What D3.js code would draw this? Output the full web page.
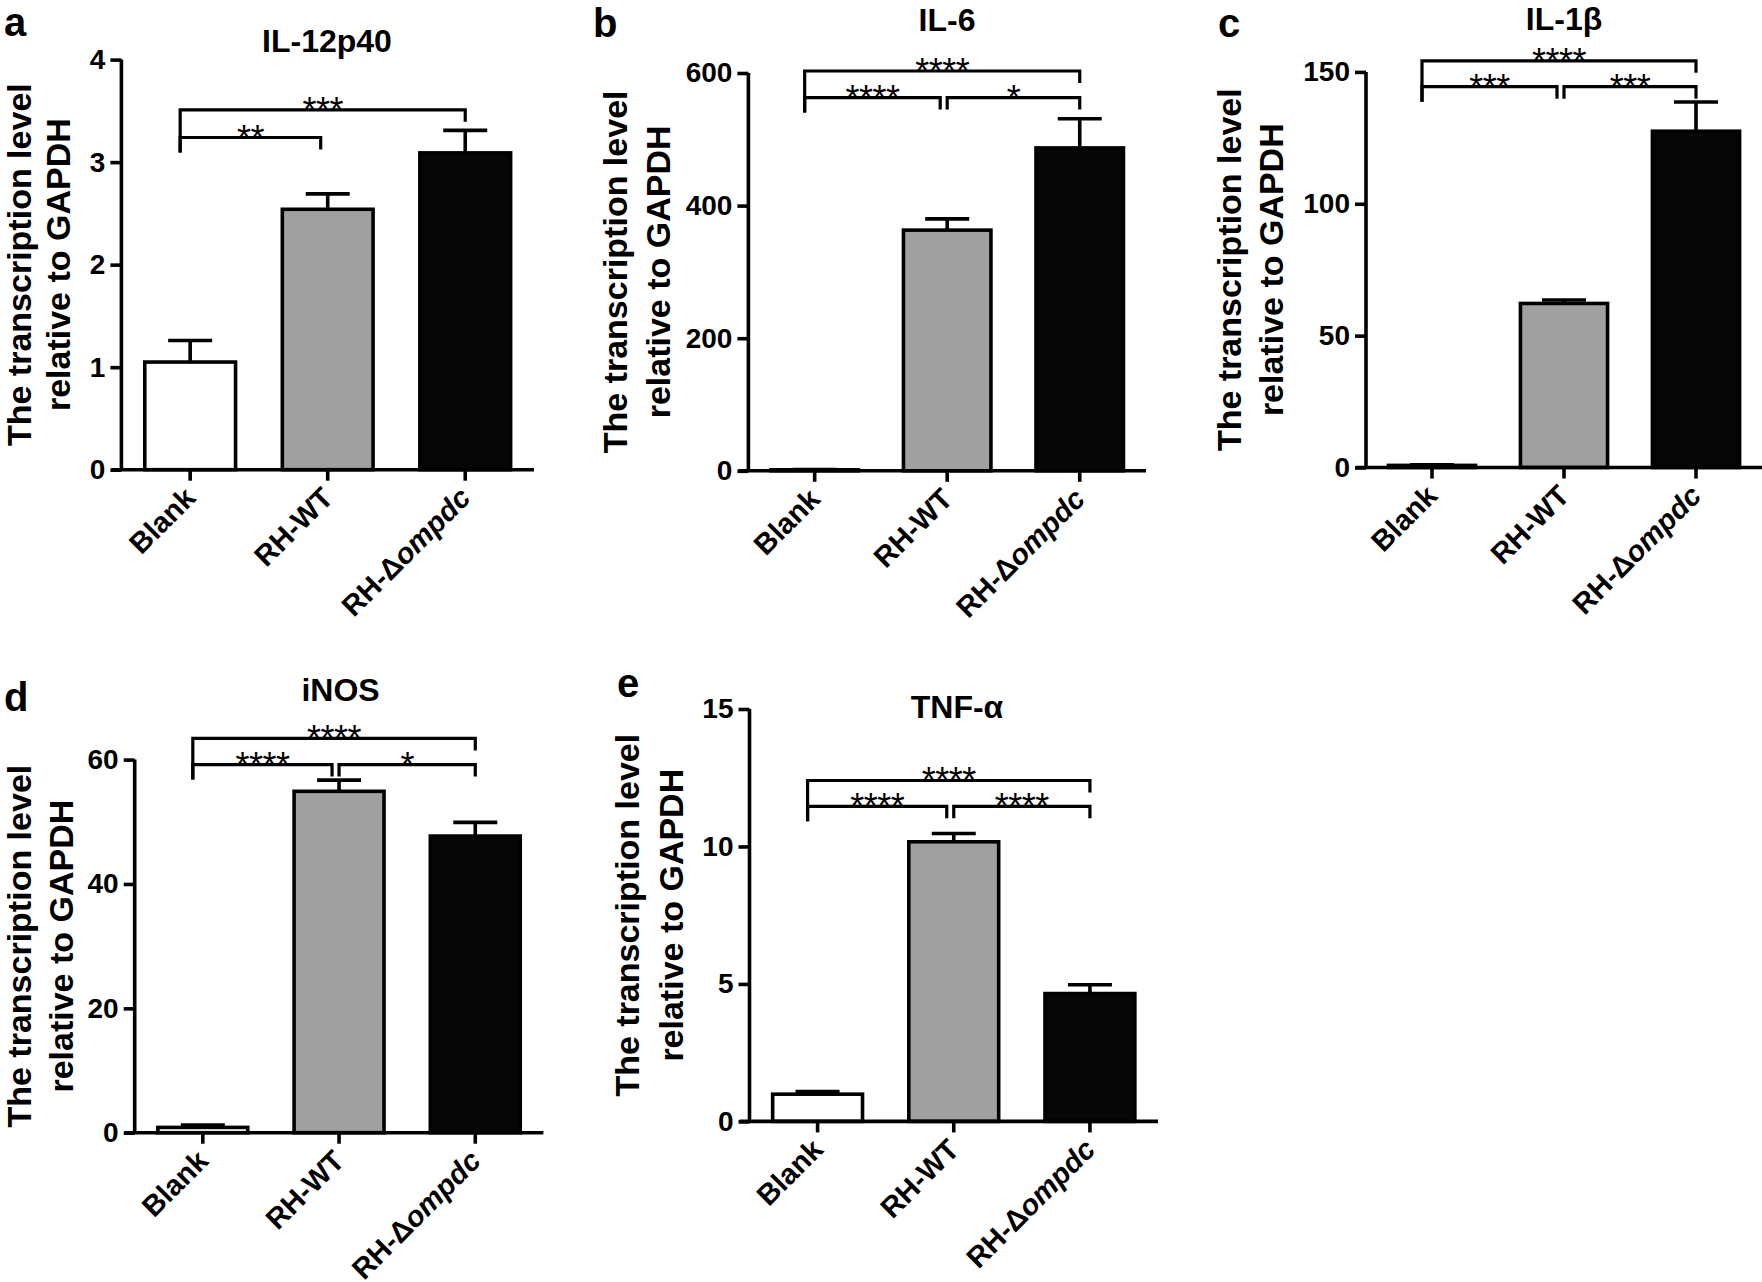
<!DOCTYPE html>
<html><head><meta charset="utf-8">
<script src="https://cdn.jsdelivr.net/npm/d3@7"></script>
<style>
body{margin:0;background:#fff;}
svg{display:block;font-family:"Liberation Sans",Arial,Helvetica,sans-serif;}
</style></head><body>
<svg id="chart" width="1762" height="1282"></svg>
<script>
// ---------- data ----------
const categories = ["Blank", "RH-WT", "RH-Δompdc"];
const barColors = ["#ffffff", "#a0a0a0", "#060606"];
const titles = ["IL-12p40", "IL-6", "IL-1β", "iNOS", "TNF-α"];
const panelLetters = ["a", "b", "c", "d", "e"];
const yTitleLines = ["The transcription level", "relative to GAPDH"];

const il12Means = [1.05, 2.54, 3.09];
const il12Errors = [0.21, 0.15, 0.22];
const il12Ticks = [0, 1, 2, 3, 4];
const il12Brackets = [
  {from: 0, to: 1, level: 3.24, label: "**"},
  {from: 0, to: 2, level: 3.51, label: "***"}
];

const il6Means = [1.5, 363, 487];
const il6Errors = [0.5, 17, 44];
const il6Ticks = [0, 200, 400, 600];
const il6Brackets = [
  {from: 0, to: 1, level: 563, label: "****"},
  {from: 1, to: 2, level: 563, label: "*"},
  {from: 0, to: 2, level: 603, label: "****"}
];

const il1bMeans = [0.8, 62.2, 127.5];
const il1bErrors = [0.2, 1.3, 11.1];
const il1bTicks = [0, 50, 100, 150];
const il1bBrackets = [
  {from: 0, to: 1, level: 144.4, label: "***"},
  {from: 1, to: 2, level: 144.4, label: "***"},
  {from: 0, to: 2, level: 154.2, label: "****"}
];

const inosMeans = [0.85, 54.9, 47.7];
const inosErrors = [0.4, 1.8, 2.2];
const inosTicks = [0, 20, 40, 60];
const inosBrackets = [
  {from: 0, to: 1, level: 59.2, label: "****"},
  {from: 1, to: 2, level: 59.2, label: "*"},
  {from: 0, to: 2, level: 63.4, label: "****"}
];

const tnfMeans = [0.99, 10.17, 4.65];
const tnfErrors = [0.1, 0.3, 0.32];
const tnfTicks = [0, 5, 10, 15];
const tnfBrackets = [
  {from: 0, to: 1, level: 11.46, label: "****"},
  {from: 1, to: 2, level: 11.46, label: "****"},
  {from: 0, to: 2, level: 12.4, label: "****"}
];

// ---------- layout ----------
const layout = [
  {axisX: 121.4, xEnd: 534,  top: 59.6, zero: 469.7, tx: 327,  ty: 52,  lx: 4,   ly: 36,  yt1: 31,   yt2: 70},
  {axisX: 748.4, xEnd: 1146, top: 73,   zero: 470.8, tx: 947,  ty: 31,  lx: 593, ly: 37,  yt1: 627,  yt2: 670},
  {axisX: 1366,  xEnd: 1762, top: 71.9, zero: 467.5, tx: 1564, ty: 30,  lx: 1218,ly: 37,  yt1: 1241, yt2: 1283},
  {axisX: 134.7, xEnd: 543.4,top: 759.6,zero: 1132.7,tx: 340.6,ty: 701, lx: 4,   ly: 711, yt1: 31,   yt2: 73},
  {axisX: 749.5, xEnd: 1158, top: 709,  zero: 1121.4,tx: 957,  ty: 718, lx: 617, ly: 697, yt1: 639,  yt2: 683}
];

const panels = [
  {means: il12Means, errors: il12Errors, ticks: il12Ticks, brackets: il12Brackets},
  {means: il6Means, errors: il6Errors, ticks: il6Ticks, brackets: il6Brackets},
  {means: il1bMeans, errors: il1bErrors, ticks: il1bTicks, brackets: il1bBrackets},
  {means: inosMeans, errors: inosErrors, ticks: inosTicks, brackets: inosBrackets},
  {means: tnfMeans, errors: tnfErrors, ticks: tnfTicks, brackets: tnfBrackets}
];

const svg = d3.select("#chart");
const LW = 3.6;

panels.forEach((p, i) => {
  const L = layout[i];
  const g = svg.append("g");
  const x = d3.scaleBand().domain(categories).range([L.axisX, L.xEnd])
    .paddingInner(0.34).paddingOuter(0.17);
  const y = d3.scaleLinear().domain([0, d3.max(p.ticks)]).range([L.zero, L.top]);

  // bars
  g.selectAll("rect.bar").data(categories).join("rect")
    .attr("x", d => x(d)).attr("width", x.bandwidth())
    .attr("y", (d, k) => y(p.means[k]))
    .attr("height", (d, k) => Math.max(0.5, L.zero - y(p.means[k])))
    .attr("fill", (d, k) => barColors[k])
    .attr("stroke", "#000").attr("stroke-width", LW);

  // error bars (upper only)
  categories.forEach((c, k) => {
    const cx = x(c) + x.bandwidth() / 2;
    const y0 = y(p.means[k]), y1 = y(p.means[k] + p.errors[k]);
    g.append("line").attr("x1", cx).attr("x2", cx).attr("y1", y0).attr("y2", y1)
      .attr("stroke", "#000").attr("stroke-width", LW);
    g.append("line").attr("x1", cx - 22).attr("x2", cx + 22).attr("y1", y1).attr("y2", y1)
      .attr("stroke", "#000").attr("stroke-width", LW);
  });

  // y axis
  const ya = g.append("g").attr("transform", `translate(${L.axisX},0)`)
    .call(d3.axisLeft(y).tickValues(p.ticks).tickSize(11).tickSizeOuter(0).tickPadding(5).tickFormat(d3.format("d")));
  ya.select(".domain").attr("stroke-width", LW).attr("d", `M0,${L.top}V${L.zero}`);
  ya.selectAll(".tick line").attr("stroke-width", LW);
  ya.selectAll(".tick text").attr("font-size", 28).attr("font-weight", "bold")
    .attr("font-family", "'Liberation Sans', Arial, sans-serif").attr("fill", "#000");

  // x axis
  const xa = g.append("g").attr("transform", `translate(0,${L.zero})`)
    .call(d3.axisBottom(x).tickSize(11).tickSizeOuter(0));
  xa.select(".domain").remove();
  xa.selectAll(".tick line").attr("stroke-width", LW);
  xa.selectAll(".tick text").remove();
  g.append("line").attr("x1", L.axisX - 10).attr("x2", L.xEnd).attr("y1", L.zero).attr("y2", L.zero)
    .attr("stroke", "#000").attr("stroke-width", LW);

  // x labels (rotated)
  categories.forEach((c, k) => {
    const cx = x(c) + x.bandwidth() / 2;
    const t = g.append("text")
      .attr("transform", `translate(${cx + 7},${L.zero + 30}) rotate(-45)`)
      .attr("text-anchor", "end").attr("font-size", 29).attr("font-weight", "bold");
    if (c.startsWith("RH-Δ")) {
      t.append("tspan").text("RH-Δ");
      t.append("tspan").attr("font-style", "italic").text(c.slice(4));
    } else {
      t.text(c);
    }
  });

  // significance brackets
  const cxOf = k => x(categories[k]) + x.bandwidth() / 2;
  const leftBottom = d3.max(p.brackets.filter(b => b.from === 0), b => y(b.level)) + 15;
  p.brackets.forEach(b => {
    const yl = y(b.level);
    const xl = b.from === 0 ? cxOf(0) - 10 : cxOf(b.from);
    const xr = b.to === 1 ? cxOf(1) - 7 : cxOf(b.to);
    const ylb = b.from === 0 ? leftBottom : yl + 12;
    g.append("path")
      .attr("d", `M${xl},${ylb}V${yl}H${xr}V${yl + 12}`)
      .attr("fill", "none").attr("stroke", "#000").attr("stroke-width", 3.2);
    g.append("text").attr("x", (xl + xr) / 2).attr("y", yl + 13)
      .attr("text-anchor", "middle").attr("font-size", 36).attr("letter-spacing", -0.5)
      .text(b.label);
  });

  // title
  g.append("text").attr("x", L.tx).attr("y", L.ty).attr("text-anchor", "middle")
    .attr("font-size", 32).attr("font-weight", "bold").text(titles[i]);
  // panel letter
  g.append("text").attr("x", L.lx).attr("y", L.ly)
    .attr("font-size", 40).attr("font-weight", "bold").text(panelLetters[i]);
  // y axis title
  const midY = (L.top + L.zero) / 2;
  [L.yt1, L.yt2].forEach((bx, j) => {
    g.append("text").attr("transform", `translate(${bx},${midY}) rotate(-90)`)
      .attr("text-anchor", "middle").attr("font-size", 34).attr("font-weight", "bold")
      .text(yTitleLines[j]);
  });
});
</script>
</body></html>
